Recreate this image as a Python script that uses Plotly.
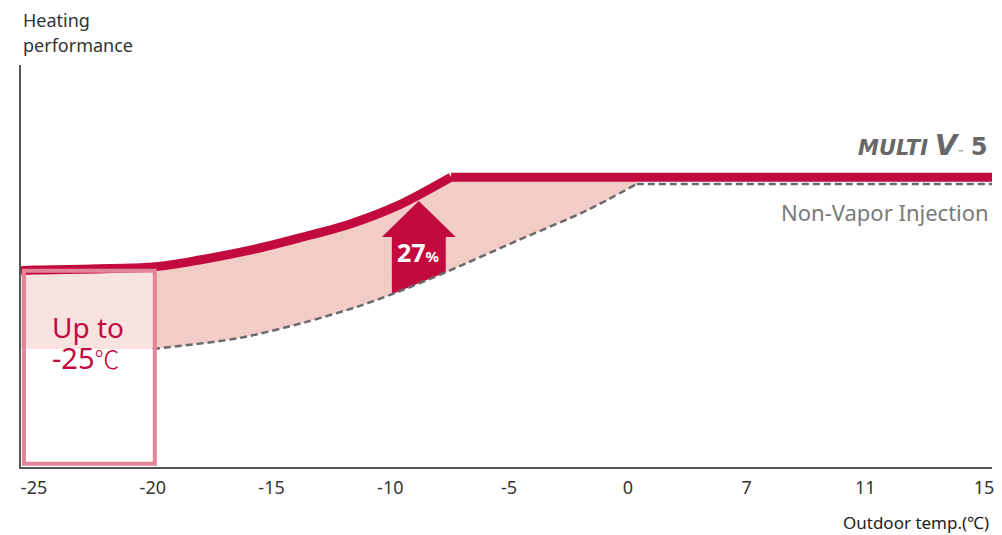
import numpy as np
import plotly.graph_objects as go

# ---- data ----
tick_temps = [-25, -20, -15, -10, -5, 0, 7, 11, 15]
tick_labels = ["-25", "-20", "-15", "-10", "-5", "0", "7", "11", "15"]

# MULTI V 5 (vapor injection) curve, then flat part
mv5_temp = [-25.55, -25, -20, -18.03, -15.71, -13.82, -11.72, -9.62, -7.44]
mv5_perf = [48.8, 49.0, 49.75, 51.5, 54.2, 57.0, 60.4, 65.2, 72.1]
mv5_flat_temp = [-7.44, 15.5]
mv5_flat_perf = [72.1, 72.1]

# Non-Vapor Injection curve, then flat part
nvi_temp = [-20, -16.35, -13.53, -11.43, -9.92, -7.65, -4.58, -1.77, 0.53]
nvi_perf = [29.35, 32.1, 36.1, 39.8, 43.0, 48.5, 56.5, 63.7, 70.4]
nvi_flat_temp = [0.53, 15.5]
nvi_flat_perf = [70.4, 70.4]

# improvement arrow
arrow_temp = -8.8
arrow_head_base = 57.2
arrow_tip = 66.2
arrow_label = "27"

# low limit box
box_temp_hi = -20
box_label_1 = "Up to"
box_label_2 = "-25"

RED = "#c20a3e"
FILL = "#f2ccc7"
BOXFILL = "#f8e3e1"
BOXLINE = "#e2849a"
DASH = "#6a6a6a"
FONT = "Noto Sans"

pos = np.arange(len(tick_temps))


def tp(t):
    t = np.asarray(t, dtype=float)
    out = np.interp(t, tick_temps, pos)
    out = np.where(t < tick_temps[0], (t - tick_temps[0]) / 5.0, out)
    out = np.where(t > tick_temps[-1], pos[-1] + (t - tick_temps[-1]) / 4.0, out)
    return out


XMIN, XMAX = -0.11, 8.067

fig = go.Figure()

# box light fill (between red line and non-VI start level)
i20 = mv5_temp.index(-20)
bx = [XMIN, tp(box_temp_hi)] + list(tp(mv5_temp[:i20 + 1][::-1]))
by = [nvi_perf[0], nvi_perf[0]] + mv5_perf[:i20 + 1][::-1]
fig.add_trace(go.Scatter(x=bx, y=by, fill="toself", fillcolor=BOXFILL, mode="none",
                         hoverinfo="skip", showlegend=False))

# fill between curves
upper_t = mv5_temp[i20:] + [nvi_temp[-1]]
upper_p = mv5_perf[i20:] + [mv5_flat_perf[0]]
fig.add_trace(go.Scatter(x=tp(upper_t), y=upper_p, mode="lines",
                         line=dict(width=0, shape="spline", smoothing=0.8, color=FILL),
                         hoverinfo="skip", showlegend=False))
fig.add_trace(go.Scatter(x=tp(nvi_temp), y=nvi_perf, mode="lines", fill="tonexty",
                         fillcolor=FILL,
                         line=dict(width=0, shape="spline", smoothing=0.8, color=FILL),
                         hoverinfo="skip", showlegend=False))

# box outline
fig.add_shape(type="rect", xref="x", yref="y",
              x0=XMIN + 0.025, x1=float(tp(box_temp_hi)) + 0.017, y0=0.8, y1=mv5_perf[0],
              line=dict(color=BOXLINE, width=4), fillcolor="rgba(0,0,0,0)", layer="above")

# arrow
ac = float(tp(arrow_temp))
sw, hw = 0.227, 0.311
nx = tp(nvi_temp)
bl = float(np.interp(ac - sw, nx, nvi_perf))
br = float(np.interp(ac + sw, nx, nvi_perf))
ax_ = [ac - sw, ac - sw, ac - hw, ac, ac + hw, ac + sw, ac + sw, ac - sw]
ay_ = [bl, arrow_head_base, arrow_head_base, arrow_tip, arrow_head_base, arrow_head_base, br, bl]
fig.add_trace(go.Scatter(x=ax_, y=ay_, fill="toself", fillcolor=RED, mode="lines",
                         line=dict(width=0, color=RED), hoverinfo="skip", showlegend=False))

# dashed non-VI
fig.add_trace(go.Scatter(x=tp(nvi_temp), y=nvi_perf, mode="lines",
                         line=dict(color=DASH, width=2.5, dash="7px,4px", shape="spline", smoothing=0.8),
                         hoverinfo="skip", showlegend=False))
fig.add_trace(go.Scatter(x=tp(nvi_flat_temp), y=nvi_flat_perf, mode="lines",
                         line=dict(color=DASH, width=2.5, dash="7px,4px"),
                         hoverinfo="skip", showlegend=False))

# MULTI V 5 red line
fig.add_trace(go.Scatter(x=tp(mv5_temp), y=mv5_perf, mode="lines",
                         line=dict(color=RED, width=9, shape="spline", smoothing=0.8),
                         hoverinfo="skip", showlegend=False))
fig.add_trace(go.Scatter(x=tp(mv5_flat_temp), y=mv5_flat_perf, mode="lines",
                         line=dict(color=RED, width=9),
                         hoverinfo="skip", showlegend=False))

ann = []
ann.append(dict(x=ac, y=53.6, xref="x", yref="y", showarrow=False,
                text="<b>" + arrow_label + "</b><b><span style='font-size:15px'>%</span></b>",
                font=dict(family=FONT, size=25, color="white"), xanchor="center", yanchor="middle"))
ann.append(dict(x=0.134, y=34.8, xref="x", yref="y", showarrow=False, text=box_label_1,
                font=dict(family=FONT, size=28, color=RED), xanchor="left", yanchor="middle"))
ann.append(dict(x=0.134, y=27.2, xref="x", yref="y", showarrow=False,
                text=box_label_2 + "<span style='font-family:Noto Sans CJK JP;font-size:25px;font-weight:300'>℃</span>",
                font=dict(family=FONT, size=29, color=RED), xanchor="left", yanchor="middle"))
ann.append(dict(x=1, y=mv5_flat_perf[0] + 8, xref="paper", yref="y", showarrow=False,
                xanchor="right", yanchor="middle", xshift=-2,
                text="<b><i>MULTI</i></b> <b><i><span style='font-size:29px'>V</span></i></b>"
                     "<span style='font-size:7px'>™</span> <b><span style='font-size:24px'>5</span></b>",
                font=dict(family="DejaVu Sans", size=21, color="#686868")))
ann.append(dict(x=1, y=mv5_flat_perf[0] - 8.7, xref="paper", yref="y", showarrow=False,
                xanchor="right", yanchor="middle", xshift=-1, text="Non-Vapor Injection",
                font=dict(family=FONT, size=22, color="#7a7a7a")))
ann.append(dict(x=0, y=1, xref="paper", yref="paper", showarrow=False, xanchor="left",
                yanchor="middle", yshift=45, text="Heating",
                font=dict(family=FONT, size=18, color="#333333")))
ann.append(dict(x=0, y=1, xref="paper", yref="paper", showarrow=False, xanchor="left",
                yanchor="middle", yshift=20, text="performance",
                font=dict(family=FONT, size=18, color="#333333")))
ann.append(dict(x=1, y=0, xref="paper", yref="paper", showarrow=False, xanchor="right",
                yanchor="middle", yshift=-55, xshift=-1, text="Outdoor temp.(℃)",
                font=dict(family=FONT, size=17, color="#222222")))

fig.update_layout(
    width=986, height=527,
    margin=dict(l=13, r=0, t=57, b=68),
    paper_bgcolor="white", plot_bgcolor="white",
    showlegend=False,
    annotations=ann,
    xaxis=dict(range=[XMIN, XMAX], tickvals=list(pos), ticktext=tick_labels,
               showgrid=False, zeroline=False, showline=True, linecolor="#555555", linewidth=1.5,
               ticks="", ticklabelstandoff=4, ticklabeloverflow="allow",
               tickfont=dict(family=FONT, size=18, color="#333333"), fixedrange=True),
    yaxis=dict(range=[0, 100], showgrid=False, zeroline=False, showline=True,
               linecolor="#555555", linewidth=1.5, showticklabels=False, ticks="", fixedrange=True),
)

fig.write_html("out.html")
